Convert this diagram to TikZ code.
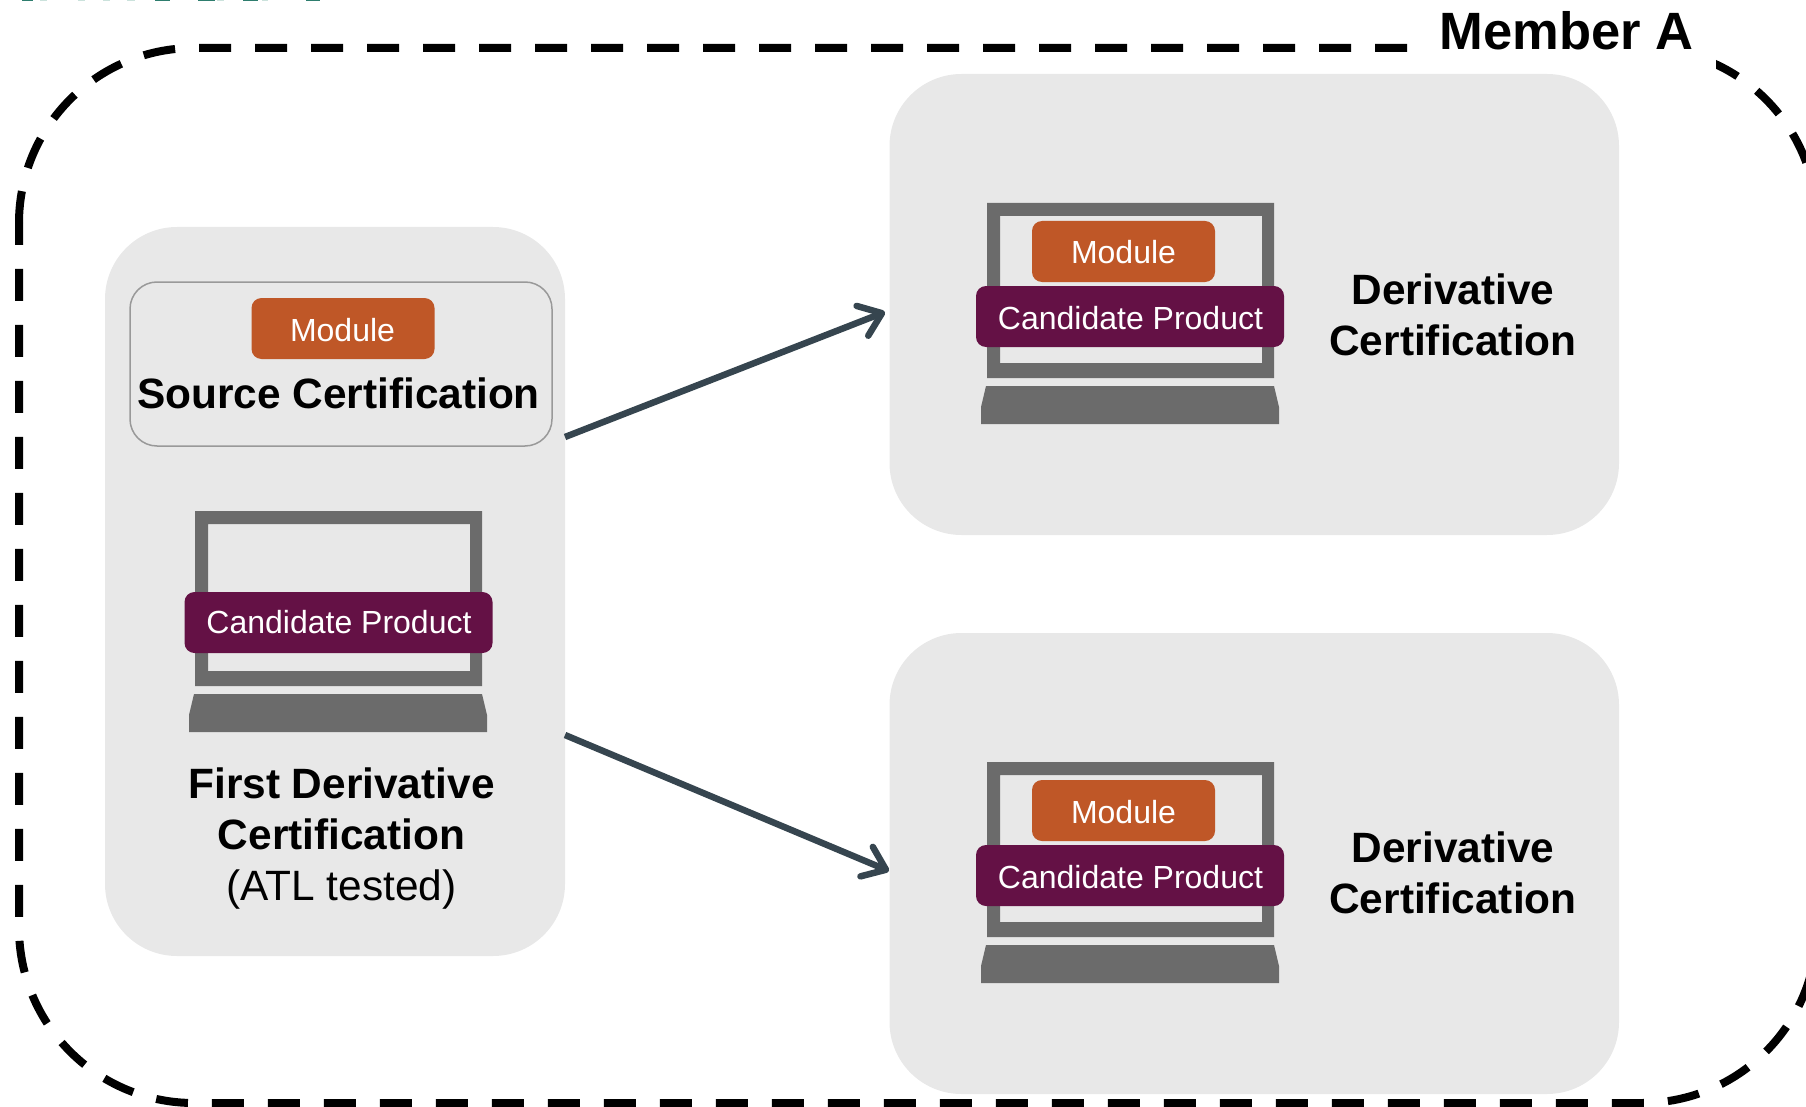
\documentclass[tikz,border=0pt]{standalone}
\usepackage{fontspec}
\setmainfont{Liberation Sans}
\usetikzlibrary{arrows.meta}
\definecolor{panel}{HTML}{E8E8E8}
\definecolor{orangebox}{HTML}{BF5727}
\definecolor{plumbox}{HTML}{641145}
\definecolor{lapgray}{HTML}{6B6B6B}
\definecolor{arrowcol}{HTML}{36454F}
\definecolor{tealdark}{HTML}{2E7D6E}
\definecolor{teallight}{HTML}{CBE2DC}
\tikzset{
  x=1pt,y=-1pt,
  panelbox/.style={fill=panel,rounded corners=72pt,inner sep=0pt},
  modbox/.style={fill=orangebox,rounded corners=10pt,inner sep=0pt,minimum width=183pt,minimum height=61pt},
  candbox/.style={fill=plumbox,rounded corners=10pt,inner sep=0pt,minimum width=308pt,minimum height=61pt},
  boxlabel/.style={text=white,font=\fontsize{32}{38}\selectfont,anchor=base,inner sep=0pt},
  headlabel/.style={text=black,font=\bfseries\fontsize{42.4}{51}\selectfont,anchor=base,inner sep=0pt,align=center},
  dashline/.style={line width=8pt,dash pattern=on 32pt off 24pt},
  flow/.style={draw=arrowcol,line width=6.5pt,-{Straight Barb[round,length=21pt,width=32pt]}},
}
\newcommand{\laptopshape}[2]{%
  \begin{scope}[shift={(#1,#2)}]
    \fill[lapgray,even odd rule] (987,203) rectangle (1274,378) (1000,216) rectangle (1262,363);
    \fill[lapgray] (986,386) -- (1274,386) -- (1279,407) -- (1279,424) -- (981,424) -- (981,407) -- cycle;
  \end{scope}}
\begin{document}
\begin{tikzpicture}
\useasboundingbox (0,0) rectangle (1806,1107);
\clip (0,0) rectangle (1806,1107);
% slivers of cut-off text at the top edge
\foreach \a/\b in {40/47,78/85,103/110,127/135,217/224,262/268}
  \fill[teallight] (\a,0) rectangle (\b,1.5);
\foreach \a/\b in {22/33,155/170,198/215,243/258,306/320}
  \fill[tealdark] (\a,0) rectangle (\b,1.5);
% dashed member outline
\draw[dashline] (19,223) arc[start angle=180,end angle=270,radius=175] -- (1642,48)
  arc[start angle=270,end angle=360,radius=175] -- (1817,575);
\draw[dashline,dash phase=46pt] (1817,575) -- (1817,928)
  arc[start angle=0,end angle=90,radius=175] -- (194,1103)
  arc[start angle=90,end angle=180,radius=175] -- (19,223);
\node[fill=white,inner sep=0pt,minimum width=301pt,minimum height=74pt] (mask) at (1565.5,37) {};
\node[font=\bfseries\fontsize{52.5}{60}\selectfont,anchor=base,inner sep=0pt] (member) at (1566.5,50) {Member A};
% panels
\node[panelbox,minimum width=460pt,minimum height=729pt] (left) at (335,591.5) {};
\node[panelbox,minimum width=729.5pt,minimum height=461pt] (rt) at (1254.25,304.5) {};
\node[panelbox,minimum width=729.5pt,minimum height=461pt] (rb) at (1254.25,863.5) {};
% source certification
\node[draw=black!40,line width=1.5pt,rounded corners=27pt,inner sep=0pt,minimum width=422pt,minimum height=164pt] (src) at (341,364) {};
\node[modbox] (m0) at (343,328.5) {};
\node[boxlabel] (m0t) at (342.5,341) {Module};
\node[headlabel] (srct) at (338.5,408) {Source Certification};
% laptops
\laptopshape{-792}{308}
\laptopshape{0}{0}
\laptopshape{0}{559}
\node[candbox] (c0) at (338.5,622.5) {};
\node[boxlabel] (c0t) at (339,633.5) {Candidate Product};
\node[headlabel] (firstt) at (341.5,900) {First Derivative\\Certification\\\mdseries (ATL tested)};
% top right
\node[modbox] (m1) at (1123.5,251.5) {};
\node[boxlabel] (m1t) at (1123.5,263.5) {Module};
\node[candbox] (c1) at (1130,316.5) {};
\node[boxlabel] (c1t) at (1130.5,329) {Candidate Product};
\node[headlabel] (d1) at (1453,355) {Derivative\\Certification};
% bottom right
\node[modbox] (m2) at (1123.5,810.5) {};
\node[boxlabel] (m2t) at (1123.5,823) {Module};
\node[candbox] (c2) at (1130,875.5) {};
\node[boxlabel] (c2t) at (1130.5,888.5) {Candidate Product};
\node[headlabel] (d2) at (1453,913.5) {Derivative\\Certification};
% arrows
\coordinate (a1s) at (565,437);
\coordinate (a1e) at (885,312);
\coordinate (a2s) at (565,735);
\coordinate (a2e) at (889,871);
\draw[flow] (a1s) -- (a1e);
\draw[flow] (a2s) -- (a2e);
\end{tikzpicture}
\end{document}
